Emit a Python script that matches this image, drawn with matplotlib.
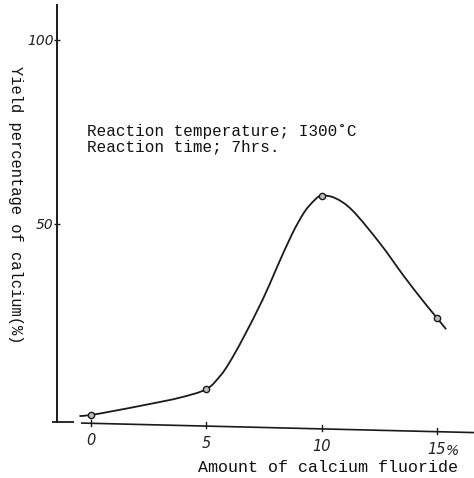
import numpy as np
import matplotlib
matplotlib.use("Agg")
import matplotlib.pyplot as plt
from matplotlib.path import Path
from matplotlib.patches import PathPatch

# ---- data ----
cf_amount = [0, 5, 10, 15]                 # amount of calcium fluoride (%)
yield_pct = [-1.9, 5.1, 57.7, 24.5]        # yield percentage of calcium (%)

# hand-drawn smooth curve
curve_x = [-0.5, 0, 0.95, 2.4, 3.85, 5, 5.6, 6.0, 6.6, 7.45, 8.0, 8.7, 9.25,
           9.7, 10, 10.6, 11.35, 12.55, 13.56, 14.45, 15, 15.4]
curve_y = [-2.2, -1.9, -0.85, 0.9, 2.8, 5.1, 8.7, 12.3, 19.0, 29.5, 37.3, 47.0,
           53.2, 56.5, 57.7, 57.0, 53.6, 44.6, 35.9, 28.7, 24.5, 21.4]

xtick_vals = [0, 5, 10, 15]
xtick_labels = ["0", "5", "10", "15"]
ytick_vals = [50, 100]
ytick_labels = ["50", "100"]

ink = "#1a1a1a"
mono = ["Liberation Mono", "DejaVu Sans Mono"]

fig = plt.figure(figsize=(4.74, 4.78), dpi=100)
fig.patch.set_facecolor("white")
ax = fig.add_axes([57 / 474, 1 - 440 / 478, 1 - 57 / 474, (440 - 5) / 478])
ax.set_xlim(-1.474, 16.61)
ax.set_ylim(-8.70, 109.5)
ax.set_facecolor("none")

# spines
for s in ["top", "right", "bottom"]:
    ax.spines[s].set_visible(False)
ax.spines["left"].set_bounds(-3.8, 109.5)
ax.spines["left"].set_linewidth(1.4)
ax.spines["left"].set_color(ink)

# short corner piece and slanted x axis line
axis_y0, axis_slope = -4.16, -0.152
ax.plot([-1.7, -0.75], [-3.8, -3.8], color=ink, lw=1.3, clip_on=False,
        solid_capstyle="butt")
xa = np.array([-0.4, 16.61])
ax.plot(xa, axis_y0 + axis_slope * xa, color=ink, lw=1.2, clip_on=False)

# x ticks along the slanted axis
ax.set_xticks([])
for xv, lab in zip(xtick_vals, xtick_labels):
    yv = axis_y0 + axis_slope * xv
    ax.plot([xv, xv], [yv - 0.6, yv + 1.0], color=ink, lw=1.0, clip_on=False)
    ax.annotate(lab, (xv, yv), xytext=(0, -12.5), textcoords="offset points",
                ha="center", va="center", fontsize=10.5, style="italic",
                color="#222222", annotation_clip=False,
                family=["DejaVu Sans"])
yv15 = axis_y0 + axis_slope * 15
ax.annotate("%", (15, yv15), xytext=(11, -14), textcoords="offset points",
            ha="center", va="center", fontsize=10, style="italic",
            color="#222222", annotation_clip=False)

# y ticks
ax.set_yticks(ytick_vals)
ax.set_yticklabels(ytick_labels, fontsize=10, style="italic", color="#222222")
ax.tick_params(axis="y", direction="inout", length=5, width=1.0, color=ink,
               pad=0)

# smooth curve via Catmull-Rom -> cubic Bezier path
pts = np.column_stack([curve_x, curve_y])
verts = [tuple(pts[0])]
codes = [Path.MOVETO]
n = len(pts)
for i in range(n - 1):
    p0 = pts[max(i - 1, 0)]
    p1 = pts[i]
    p2 = pts[i + 1]
    p3 = pts[min(i + 2, n - 1)]
    c1 = p1 + (p2 - p0) / 6.0
    c2 = p2 - (p3 - p1) / 6.0
    verts += [tuple(c1), tuple(c2), tuple(p2)]
    codes += [Path.CURVE4] * 3
ax.add_patch(PathPatch(Path(verts, codes), facecolor="none", edgecolor=ink,
                       lw=1.3, clip_on=False))

# data markers
ax.plot(cf_amount, yield_pct, linestyle="none", marker="o", markersize=4.5,
        markerfacecolor="#bdbdbd", markeredgecolor=ink, markeredgewidth=1.0,
        clip_on=False, zorder=5)

# labels
fig.text(15 / 474, 1 - 205 / 478, "Yield percentage of calcium(%)",
         rotation=270, ha="center", va="center", fontsize=11.2,
         family=mono, color="#111111")
fig.text(328 / 474, 1 - 468 / 478, "Amount of calcium fluoride",
         ha="center", va="center", fontsize=12, family=mono, color="#111111")
fig.text(87 / 474, 1 - 139 / 478,
         "Reaction temperature; I300\u02daC\nReaction time; 7hrs.",
         ha="left", va="center", fontsize=11.5, family=mono,
         color="#111111", linespacing=1.0)

fig.savefig("out.png", dpi=100)
